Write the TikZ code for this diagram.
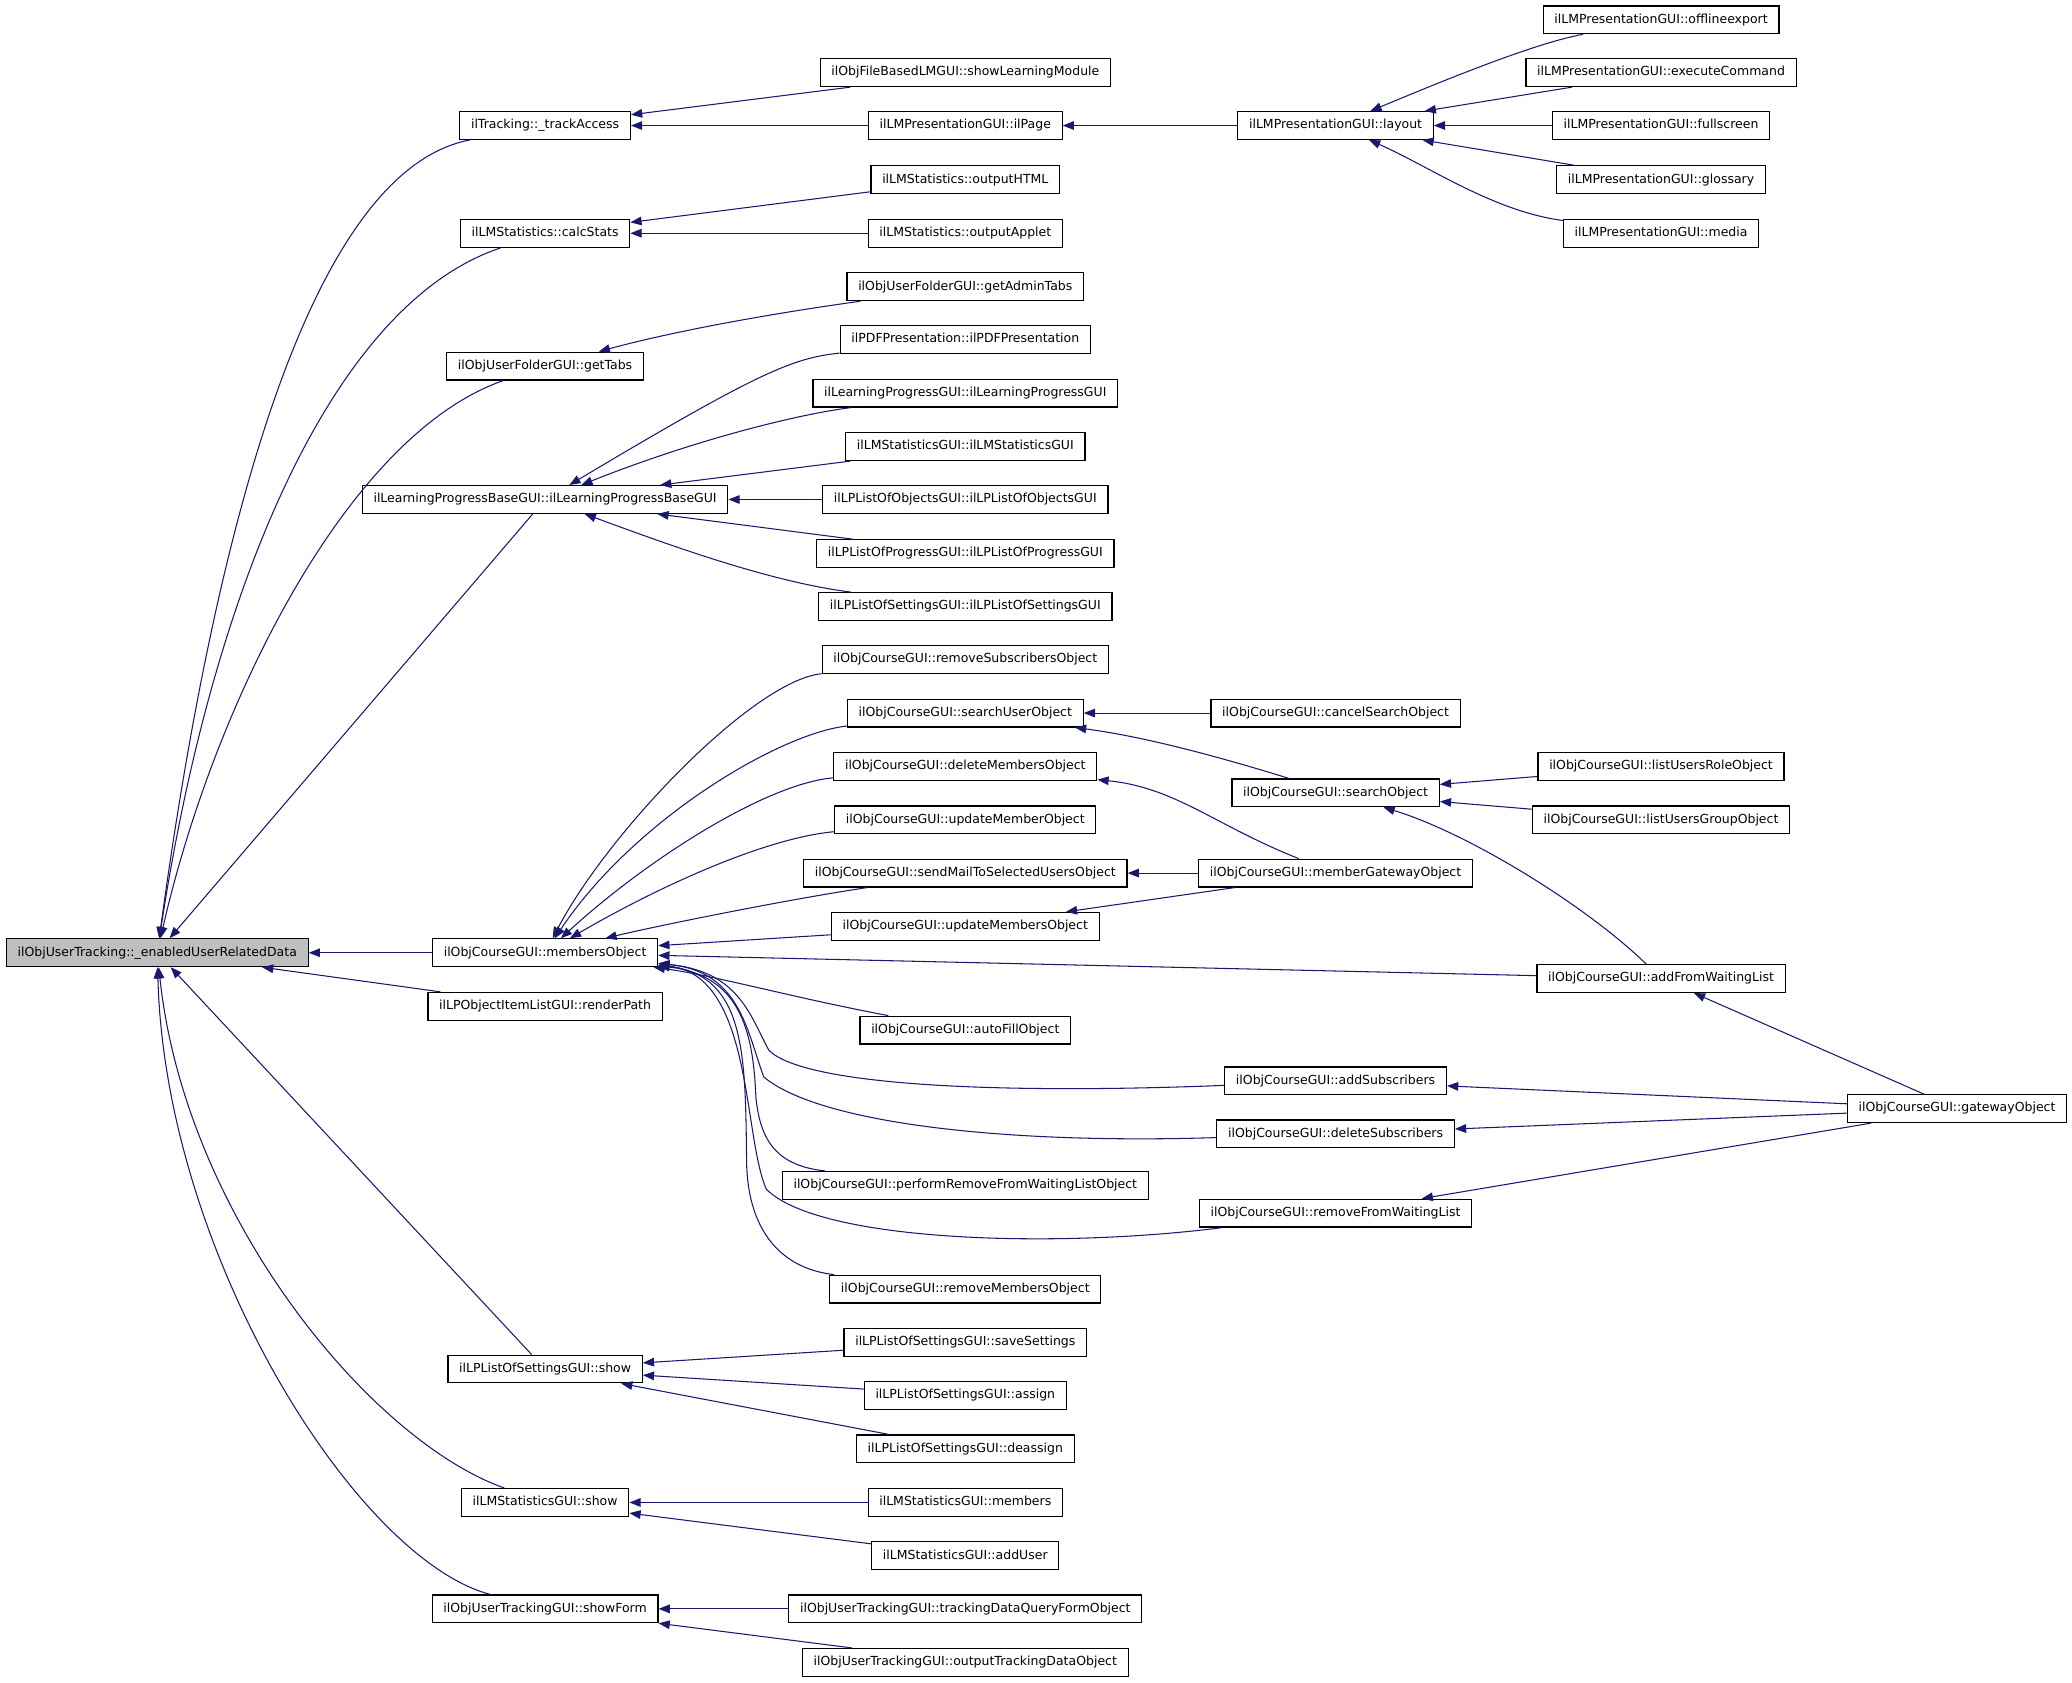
\documentclass[tikz,border=0pt]{standalone}
\usepackage{fontspec}
\setmainfont{DejaVu Sans}
\usetikzlibrary{arrows.meta}
\definecolor{edgeblue}{HTML}{191970}
\definecolor{focusgray}{HTML}{BFBFBF}

\begin{document}
\begin{tikzpicture}[x=1pt, y=-1pt,
  fn/.style={draw, line width=0.9pt, fill=white, inner xsep=8.5pt, inner ysep=0pt,
    minimum height=21pt, text height=7pt, text depth=2pt,
    font=\fontsize{9.45}{11}\selectfont},
  call/.style={draw=edgeblue, line width=0.8pt, -{Triangle[length=8.5pt,width=6.5pt]}}]
  % Spalten
  \def\colA{412.5}
  \def\colB{730.5}
  \def\colC{1010.7}
  \def\colD{1257}
  \def\colE{1481}

  \useasboundingbox (0,0) rectangle (1568,1273.6);

  % Wurzel
  \node[fn, fill=focusgray] (enabled) at (119,721) {ilObjUserTracking::\_enabledUserRelatedData};

  % Spalte 1
  \node[fn] (trackAccess) at (\colA,95)    {ilTracking::\_trackAccess};
  \node[fn] (calcStats)   at (\colA,176.5) {ilLMStatistics::calcStats};
  \node[fn] (getTabs)     at (\colA,277)   {ilObjUserFolderGUI::getTabs};
  \node[fn] (lpBase)      at (\colA,378)   {ilLearningProgressBaseGUI::ilLearningProgressBaseGUI};
  \node[fn] (membersObj)  at (\colA,721)   {ilObjCourseGUI::membersObject};
  \node[fn] (renderPath)  at (\colA,761.5) {ilLPObjectItemListGUI::renderPath};
  \node[fn] (lpsShow)     at (\colA,1036)  {ilLPListOfSettingsGUI::show};
  \node[fn] (lmsShow)     at (\colA,1137)  {ilLMStatisticsGUI::show};
  \node[fn] (showForm)    at (\colA,1217.5){ilObjUserTrackingGUI::showForm};

  % Spalte 2
  \node[fn] (showLM)       at (\colB,55)    {ilObjFileBasedLMGUI::showLearningModule};
  \node[fn] (ilPage)       at (\colB,95)    {ilLMPresentationGUI::ilPage};
  \node[fn] (outputHTML)   at (\colB,136)   {ilLMStatistics::outputHTML};
  \node[fn] (outputApplet) at (\colB,176.5) {ilLMStatistics::outputApplet};
  \node[fn] (adminTabs)    at (\colB,217)   {ilObjUserFolderGUI::getAdminTabs};
  \node[fn] (pdfPres)      at (\colB,257)   {ilPDFPresentation::ilPDFPresentation};
  \node[fn] (lpGUI)        at (\colB,297.5) {ilLearningProgressGUI::ilLearningProgressGUI};
  \node[fn] (lmsGUI)       at (\colB,338)   {ilLMStatisticsGUI::ilLMStatisticsGUI};
  \node[fn] (lpObjects)    at (\colB,378)   {ilLPListOfObjectsGUI::ilLPListOfObjectsGUI};
  \node[fn] (lpProgress)   at (\colB,419)   {ilLPListOfProgressGUI::ilLPListOfProgressGUI};
  \node[fn] (lpSettings)   at (\colB,459)   {ilLPListOfSettingsGUI::ilLPListOfSettingsGUI};
  \node[fn] (rmSubs)       at (\colB,499)   {ilObjCourseGUI::removeSubscribersObject};
  \node[fn] (searchUser)   at (\colB,539.6) {ilObjCourseGUI::searchUserObject};
  \node[fn] (delMembers)   at (\colB,580)   {ilObjCourseGUI::deleteMembersObject};
  \node[fn] (updMember)    at (\colB,620.5) {ilObjCourseGUI::updateMemberObject};
  \node[fn] (sendMail)     at (\colB,660.7) {ilObjCourseGUI::sendMailToSelectedUsersObject};
  \node[fn] (updMembers)   at (\colB,701)   {ilObjCourseGUI::updateMembersObject};
  \node[fn] (autoFill)     at (\colB,779.5) {ilObjCourseGUI::autoFillObject};
  \node[fn] (perfRemove)   at (\colB,897)   {ilObjCourseGUI::performRemoveFromWaitingListObject};
  \node[fn] (rmMembers)    at (\colB,975.5) {ilObjCourseGUI::removeMembersObject};
  \node[fn] (saveSettings) at (\colB,1016)  {ilLPListOfSettingsGUI::saveSettings};
  \node[fn] (assign)       at (\colB,1056)  {ilLPListOfSettingsGUI::assign};
  \node[fn] (deassign)     at (\colB,1096.5){ilLPListOfSettingsGUI::deassign};
  \node[fn] (lmsMembers)   at (\colB,1137)  {ilLMStatisticsGUI::members};
  \node[fn] (addUser)      at (\colB,1177.3){ilLMStatisticsGUI::addUser};
  \node[fn] (queryForm)    at (\colB,1217.5){ilObjUserTrackingGUI::trackingDataQueryFormObject};
  \node[fn] (outputData)   at (\colB,1258)  {ilObjUserTrackingGUI::outputTrackingDataObject};

  % Spalte 3
  \node[fn] (layout)        at (\colC,95)    {ilLMPresentationGUI::layout};
  \node[fn] (cancelSearch)  at (\colC,539.6) {ilObjCourseGUI::cancelSearchObject};
  \node[fn] (searchObj)     at (\colC,600)   {ilObjCourseGUI::searchObject};
  \node[fn] (memberGateway) at (\colC,660.7) {ilObjCourseGUI::memberGatewayObject};
  \node[fn] (addSubs)       at (\colC,818)   {ilObjCourseGUI::addSubscribers};
  \node[fn] (delSubs)       at (\colC,858)   {ilObjCourseGUI::deleteSubscribers};
  \node[fn] (rmWaiting)     at (\colC,918)   {ilObjCourseGUI::removeFromWaitingList};

  % Spalte 4 und 5
  \node[fn] (offlineExport)  at (\colD,15)    {ilLMPresentationGUI::offlineexport};
  \node[fn] (execCommand)    at (\colD,55)    {ilLMPresentationGUI::executeCommand};
  \node[fn] (fullscreen)     at (\colD,95)    {ilLMPresentationGUI::fullscreen};
  \node[fn] (glossary)       at (\colD,136)   {ilLMPresentationGUI::glossary};
  \node[fn] (media)          at (\colD,176.5) {ilLMPresentationGUI::media};
  \node[fn] (listRole)       at (\colD,580)   {ilObjCourseGUI::listUsersRoleObject};
  \node[fn] (listGroup)      at (\colD,620.5) {ilObjCourseGUI::listUsersGroupObject};
  \node[fn] (addFromWaiting) at (\colD,740.5) {ilObjCourseGUI::addFromWaitingList};
  \node[fn] (gateway)        at (\colE,839)   {ilObjCourseGUI::gatewayObject};

  % gerade Kanten
  \foreach \von/\nach in {showLM/trackAccess, ilPage/trackAccess, layout/ilPage,
      execCommand/layout, fullscreen/layout, glossary/layout,
      outputHTML/calcStats, outputApplet/calcStats,
      lmsGUI/lpBase, lpObjects/lpBase, lpProgress/lpBase,
      lpBase/enabled, membersObj/enabled, renderPath/enabled, lpsShow/enabled,
      cancelSearch/searchUser, listRole/searchObj, listGroup/searchObj,
      memberGateway/sendMail, memberGateway/updMembers,
      updMembers/membersObj, addFromWaiting/membersObj,
      gateway/addFromWaiting, gateway/addSubs, gateway/delSubs, gateway/rmWaiting,
      saveSettings/lpsShow, assign/lpsShow, deassign/lpsShow,
      lmsMembers/lmsShow, addUser/lmsShow, queryForm/showForm, outputData/showForm}
    \draw[call] (\von) -- (\nach);

  % Boegen zur Wurzel
  \draw[call] (trackAccess) .. controls (230,130) and (160,420) .. (enabled);
  \draw[call] (calcStats) .. controls (250,230) and (160,450) .. (enabled);
  \draw[call] (getTabs) .. controls (260,330) and (160,540) .. (enabled);
  \draw[call] (lmsShow) .. controls (280,1090) and (140,920) .. (enabled);
  \draw[call] (showForm) .. controls (270,1180) and (125,950) .. (enabled);

  % obere Boegen
  \draw[call] (offlineExport) .. controls (1160,33) and (1090,62) .. (layout);
  \draw[call] (media) .. controls (1130,160) and (1080,125) .. (layout);
  \draw[call] (adminTabs) .. controls (600,235) and (520,248) .. (getTabs);
  \draw[call] (pdfPres) .. controls (600,271) and (575,281) .. (lpBase);
  \draw[call] (lpGUI) .. controls (600,314) and (520,335) .. (lpBase);
  \draw[call] (lpSettings) .. controls (580,440) and (500,410) .. (lpBase);

  % Suche und Gateway
  \draw[call] (searchObj) .. controls (930,575) and (870,558) .. (searchUser);
  \draw[call] (addFromWaiting) .. controls (1200,685) and (1110,630) .. (searchObj);
  \draw[call] (memberGateway) .. controls (920,625) and (890,596) .. (delMembers);

  % Faecher um membersObject
  \draw[call] (rmSubs) .. controls (570,515) and (460,630) .. (membersObj);
  \draw[call] (searchUser) .. controls (590,555) and (480,620) .. (membersObj);
  \draw[call] (delMembers) .. controls (580,593) and (490,650) .. (membersObj);
  \draw[call] (updMember) .. controls (580,634) and (500,670) .. (membersObj);
  \draw[call] (sendMail) .. controls (600,680) and (500,700) .. (membersObj);
  \draw[call] (autoFill) .. controls (600,755) and (540,738) .. (membersObj);
  \draw[call] (addSubs) .. controls (760,828) and (610,822) .. (582,795)
    .. controls (568,770) and (560,735) .. (membersObj);
  \draw[call] (delSubs) .. controls (760,866) and (620,850) .. (578,815)
    .. controls (565,780) and (560,735) .. (membersObj);
  \draw[call] (perfRemove) .. controls (585,882) and (575,860) .. (572,830)
    .. controls (570,780) and (560,738) .. (membersObj);
  \draw[call] (rmWaiting) .. controls (800,945) and (620,940) .. (580,900)
    .. controls (562,860) and (570,738) .. (membersObj);
  \draw[call] (rmMembers) .. controls (590,960) and (566,930) .. (565,880)
    .. controls (564,800) and (565,738) .. (membersObj);

\end{tikzpicture}
\end{document}
